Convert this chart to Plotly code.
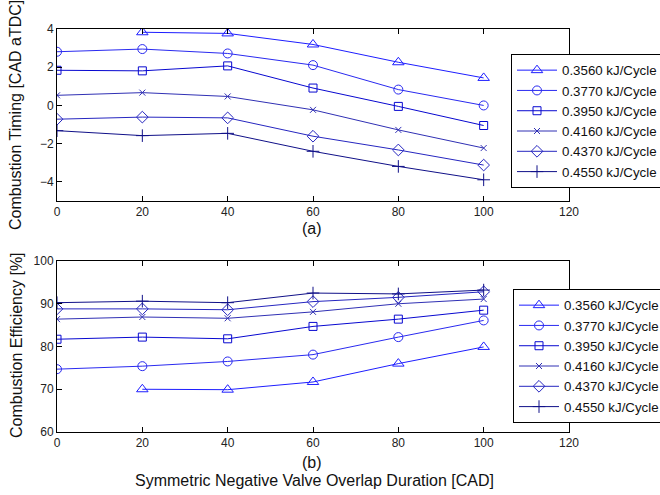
import plotly.graph_objects as go

# Valve overlap durations [CAD]
overlap = [0, 20, 40, 60, 80, 100]

# Fuel energy levels
series_names = ["0.3560 kJ/Cycle", "0.3770 kJ/Cycle", "0.3950 kJ/Cycle",
                "0.4160 kJ/Cycle", "0.4370 kJ/Cycle", "0.4550 kJ/Cycle"]

# Combustion timing [CAD aTDC] (None = no measurement)
timing_0356 = [None, 3.83, 3.77, 3.19, 2.26, 1.44]
timing_0377 = [2.81, 2.95, 2.72, 2.11, 0.83, 0.00]
timing_0395 = [1.84, 1.81, 2.07, 0.91, -0.05, -1.05]
timing_0416 = [0.53, 0.67, 0.47, -0.23, -1.28, -2.23]
timing_0437 = [-0.72, -0.61, -0.65, -1.61, -2.33, -3.12]
timing_0455 = [-1.32, -1.58, -1.46, -2.40, -3.19, -3.89]

# Combustion efficiency [%]
eff_0356 = [None, 70.0, 69.9, 71.7, 76.0, 79.9]
eff_0377 = [74.7, 75.4, 76.5, 78.1, 82.2, 86.1]
eff_0395 = [81.7, 82.2, 81.8, 84.7, 86.4, 88.5]
eff_0416 = [86.4, 86.9, 86.6, 88.1, 90.0, 91.1]
eff_0437 = [88.8, 88.8, 88.6, 90.5, 91.5, 92.8]
eff_0455 = [90.25, 90.6, 90.25, 92.5, 92.3, 93.2]

x_ticks = [0, 20, 40, 60, 80, 100, 120]
timing_ticks = [-4, -2, 0, 2, 4]
eff_ticks = [60, 70, 80, 90, 100]

timing_data = [timing_0356, timing_0377, timing_0395, timing_0416, timing_0437, timing_0455]
eff_data = [eff_0356, eff_0377, eff_0395, eff_0416, eff_0437, eff_0455]

colors = ["#1e1eff", "#2a2af0", "#0808d0", "#3030b4", "#2626c0", "#101088"]
symbols = ["triangle-up-open", "circle-open", "square-open",
           "x-thin-open", "diamond-open", "cross-thin-open"]
sizes = [10, 9, 8, 6, 9, 9]

W, H = 660, 495
FONT = "Liberation Sans, Arial, sans-serif"

fig = go.Figure()

for name, y, c, s, sz in zip(series_names, timing_data, colors, symbols, sizes):
    fig.add_trace(go.Scatter(
        x=overlap, y=y, name=name, mode="lines+markers",
        line=dict(color=c, width=1),
        marker=dict(symbol=s, size=sz, color=c, line=dict(color=c, width=1)),
        xaxis="x", yaxis="y", legend="legend",
    ))

for name, y, c, s, sz in zip(series_names, eff_data, colors, symbols, sizes):
    fig.add_trace(go.Scatter(
        x=overlap, y=y, name=name, mode="lines+markers",
        line=dict(color=c, width=1),
        marker=dict(symbol=s, size=sz, color=c, line=dict(color=c, width=1)),
        xaxis="x2", yaxis="y2", legend="legend2",
    ))

x0, x1 = 57 / W, 569 / W
top_dom = [1 - 201 / H, 1 - 29 / H]
bot_dom = [1 - 432 / H, 1 - 261 / H]

axis_common = dict(
    showline=True, linecolor="black", linewidth=1, mirror="ticks",
    ticks="inside", ticklen=5, tickcolor="black", showgrid=False,
    zeroline=False, tickfont=dict(family=FONT, size=12, color="#222"),
)

legend_common = dict(
    bgcolor="white", bordercolor="black", borderwidth=1,
    font=dict(family=FONT, size=13.3, color="#111"),
    xanchor="left", yanchor="top", tracegroupgap=0, itemwidth=40,
)

fig.update_layout(
    width=W, height=H,
    margin=dict(l=0, r=0, t=0, b=0, autoexpand=False),
    paper_bgcolor="white", plot_bgcolor="white",
    xaxis=dict(domain=[x0, x1], range=[0, 120], tickvals=x_ticks,
               anchor="y", **axis_common),
    yaxis=dict(domain=top_dom, range=[-5, 4], tickvals=timing_ticks,
               anchor="x", **axis_common),
    xaxis2=dict(domain=[x0, x1], range=[0, 120], tickvals=x_ticks,
                anchor="y2", **axis_common),
    yaxis2=dict(domain=bot_dom, range=[60, 100], tickvals=eff_ticks,
                anchor="x2", **axis_common),
    legend=dict(x=511 / W, y=1 - 54 / H, **legend_common),
    legend2=dict(x=513 / W, y=1 - 289 / H, **legend_common),
    showlegend=True,
)

title_font = dict(family=FONT, size=16, color="#111")
fig.add_annotation(text="Combustion Timing [CAD aTDC]", x=16 / W, y=1 - 115 / H,
                   xref="paper", yref="paper", textangle=-90, showarrow=False,
                   font=title_font, xanchor="center", yanchor="middle")
fig.add_annotation(text="Combustion Efficiency [%]", x=16 / W, y=1 - 345 / H,
                   xref="paper", yref="paper", textangle=-90, showarrow=False,
                   font=title_font, xanchor="center", yanchor="middle")
fig.add_annotation(text="(a)", x=312 / W, y=1 - 228 / H, xref="paper", yref="paper",
                   showarrow=False, font=title_font,
                   xanchor="center", yanchor="middle")
fig.add_annotation(text="(b)", x=312 / W, y=1 - 462 / H, xref="paper", yref="paper",
                   showarrow=False, font=title_font,
                   xanchor="center", yanchor="middle")
fig.add_annotation(text="Symmetric Negative Valve Overlap Duration [CAD]",
                   x=314 / W, y=1 - 480 / H, xref="paper", yref="paper",
                   showarrow=False, font=title_font,
                   xanchor="center", yanchor="middle")

fig.write_html("out.html")
